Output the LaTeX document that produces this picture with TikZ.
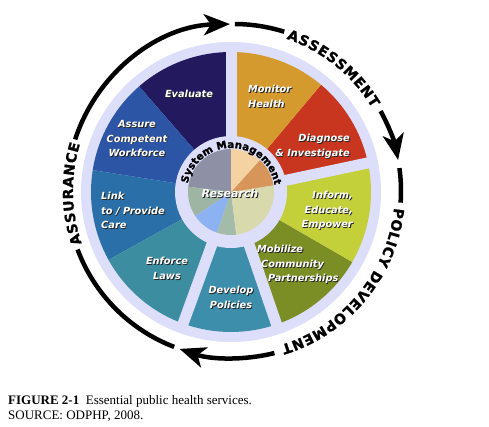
\documentclass[tikz,border=0pt]{standalone}
\usepackage{fontspec}
\setmainfont{Liberation Serif}
\newfontfamily\svcfont{DejaVu Sans}
\newfontfamily\ringfont{DejaVu Sans}[BoldFeatures={FakeBold=1.2}]
\usetikzlibrary{arrows.meta, decorations.text}

\definecolor{lav}{RGB}{220,222,250}
\definecolor{cEval}{HTML}{22195E}
\definecolor{cAssure}{HTML}{2C55A6}
\definecolor{cLink}{HTML}{2A6FA8}
\definecolor{cEnforce}{HTML}{3C8DA0}
\definecolor{cDevelop}{HTML}{3D8EAA}
\definecolor{cMobil}{HTML}{7B8D25}
\definecolor{cInform}{HTML}{C4D03A}
\definecolor{cDiag}{HTML}{C9361F}
\definecolor{cMon}{HTML}{D49A2E}
\definecolor{rGray}{HTML}{8E90A6}
\definecolor{rSage}{HTML}{9FB5A3}
\definecolor{rBlue}{HTML}{8DB2F2}
\definecolor{rGreen}{HTML}{A3BBA9}
\definecolor{rBeige}{HTML}{D9D9AE}
\definecolor{rTan}{HTML}{D8955A}
\definecolor{rPeach}{HTML}{F5D2A2}

% white label with a dark drop shadow
\newcommand\svclabel[4]{%
  \node[svcsh, #2] (#1-s) at #3 {#4};
  \node[svc, #2] (#1) at #3 {#4};}

\begin{document}
\begin{tikzpicture}[x=1pt, y=1pt,
    svc/.style={font=\svcfont\bfseries\itshape\fontsize{9.8}{14.5}\selectfont,
        text=white, inner sep=0pt},
    svcsh/.style={svc, text=black!85, xshift=0.9pt, yshift=-0.9pt},
    gap/.style={lav, line width=11pt},
    ring/.style={line width=4.5pt},
    ringar/.style={ring, -{Stealth[length=26pt, width=21pt, inset=7pt]}},
    ringtext/.style={decorate, decoration={text along path, text align=fit to path,
        text={|\ringfont\bfseries\fontsize{14}{14}\selectfont|#1}}}]
\useasboundingbox (-231,-234) rectangle (258,192);

% wheel
\fill[lav] (0,0) circle[radius=150];
\foreach \a/\b/\c in {90/131/cEval, 131/171/cAssure, 171/209/cLink,
    209/250/cEnforce, 250/289/cDevelop, 289/330/cMobil, 330/372/cInform,
    12/50/cDiag, 50/90/cMon}
  \fill[\c] (0,0) -- (\a:140) arc[start angle=\a, end angle=\b, radius=140] -- cycle;
\foreach \a in {90, 12, -71, -110}
  \draw[gap] (0,0) -- (\a:146);

% hub
\fill[lav] (0,0) circle[radius=56];
\foreach \a/\b/\c in {90/173/rGray, 173/214/rSage, 214/251/rBlue,
    251/277/rGreen, 277/369/rBeige, 9/48/rTan, 48/90/rPeach}
  \fill[\c] (0,0) -- (\a:43) arc[start angle=\a, end angle=\b, radius=43] -- cycle;
\path[decorate, decoration={text along path, text align=fit to path,
    text={|\ringfont\bfseries\fontsize{10.3}{10}\selectfont|System Management}}]
  (169:44) arc[start angle=169, end angle=9, radius=44];

% services
\svclabel{eval}{}{(-42,98)}{Evaluate}
\svclabel{mon}{anchor=west, align=left}{(17,95.5)}{Monitor\\Health}
\svclabel{diag}{anchor=east, align=right}{(119,45.5)}{Diagnose\\\& Investigate}
\svclabel{inf}{anchor=east, align=right}{(122,-18.5)}{Inform,\\Educate,\\Empower}
\svclabel{mob}{anchor=west, align=left}{(26,-72.5)}{Mobilize\\\hspace{4pt}Community\\\hspace{11pt}Partnerships}
\svclabel{dev}{align=center}{(0,-105.5)}{Develop\\Policies}
\svclabel{enf}{align=center}{(-64,-76.5)}{Enforce\\Laws}
\svclabel{link}{anchor=west, align=left}{(-130,-18.5)}{Link\\to / Provide\\Care}
\svclabel{assure}{align=center}{(-94,53.5)}{Assure\\Competent\\Workforce}
\svclabel{res}{font=\svcfont\bfseries\itshape\fontsize{11}{13}\selectfont}{(-1,-1)}{Research}

% outer cycle
\begin{scope}[shift={(3,1)}]
\draw[ringar] (162:167) arc[start angle=162, end angle=91.4, radius=167];
\draw[ring] (89.7:167) arc[start angle=89.7, end angle=72.5, radius=167];
\path[ringtext=ASSESSMENT] (71:161) arc[start angle=71, end angle=31, radius=161];
\draw[ringar] (28.6:167) arc[start angle=28.6, end angle=10.7, radius=167];
\draw[ring] (7.9:167) arc[start angle=7.9, end angle=-4, radius=167];
\path[ringtext=POLICY DEVELOPMENT] (-6:161) arc[start angle=-6, end angle=-73, radius=161];
\draw[ringar] (-76:167) arc[start angle=-76, end angle=-109, radius=167];
\draw[ring] (-111:167) arc[start angle=-111, end angle=-159.5, radius=167];
\path[ringtext=ASSURANCE] (-161:161) arc[start angle=-161, end angle=-197, radius=161];
\end{scope}

% caption
\node[anchor=base west, inner sep=0pt, font=\fontsize{13}{15}\selectfont] (cap)
  at (-223,-212) {\textbf{FIGURE 2-1}\ \ Essential public health services.};
\node[anchor=base west, inner sep=0pt, font=\fontsize{13}{15}\selectfont] (src)
  at (-223,-227) {SOURCE: ODPHP, 2008.};
\end{tikzpicture}
\end{document}
